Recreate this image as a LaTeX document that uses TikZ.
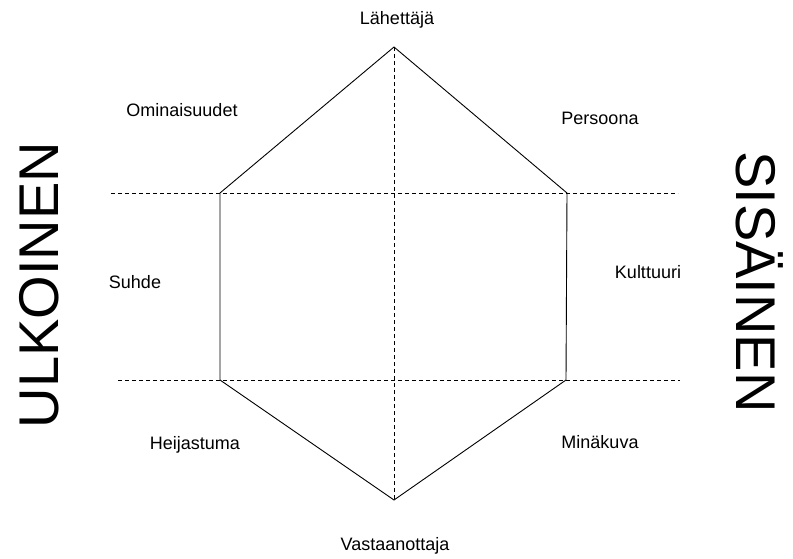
\documentclass[tikz,border=0pt]{standalone}
\usepackage{fontspec}
\setmainfont{Liberation Sans}
\begin{document}
\begin{tikzpicture}[x=1pt,y=-1pt,
  lbl/.style={font=\fontsize{18}{21}\selectfont, inner sep=0pt},
  big/.style={font=\fontsize{56}{60}\selectfont, inner sep=0pt},
  edge/.style={line width=0.9pt},
  guide/.style={line width=0.8pt, dash pattern=on 4pt off 3pt}]
\useasboundingbox (0,0) rectangle (793,559);
\coordinate (T) at (394,47);
\coordinate (UR) at (567,193);
\coordinate (LR) at (566,380);
\coordinate (B) at (394,500);
\coordinate (LL) at (220,380);
\coordinate (UL) at (220,193);
\coordinate (g1a) at (111,193);
\coordinate (g1b) at (678,193);
\coordinate (g2a) at (118,380);
\coordinate (g2b) at (680,380);
\draw[guide] (g1a) -- (g1b);
\draw[guide] (g2a) -- (g2b);
\draw[guide] (T) -- (B);
\draw[edge] (T) -- (UR) -- (LR) -- (B) -- (LL) -- (UL) -- cycle;
\node[lbl] (sender) at (397,20) {Lähettäjä};
\node[lbl] (omin) at (182,110) {Ominaisuudet};
\node[lbl] (pers) at (600,118) {Persoona};
\node[lbl] (suhde) at (135,282) {Suhde};
\node[lbl] (kult) at (648,272) {Kulttuuri};
\node[lbl] (heij) at (195,445) {Heijastuma};
\node[lbl] (mina) at (600,442) {Minäkuva};
\node[lbl] (vast) at (395,546) {Vastaanottaja};
\node[big, rotate=90] (ulk) at (39,285) {ULKOINEN};
\node[big, rotate=-90] (sis) at (760,282) {SISÄINEN};
\end{tikzpicture}
\end{document}
